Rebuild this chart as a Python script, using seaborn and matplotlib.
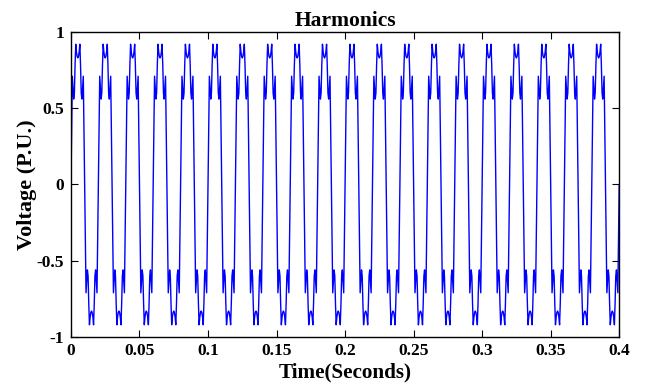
import numpy as np
import pandas as pd
import seaborn as sns
import matplotlib.pyplot as plt

# one cycle of the 50 Hz waveform, every 0.5 ms
cycle = [0.00, 0.36, 0.71, 0.63, 0.56, 0.60, 0.78, 0.92, 0.87, 0.84,
         0.83, 0.84, 0.87, 0.92, 0.78, 0.60, 0.56, 0.63, 0.71, 0.36,
         0.00, -0.36, -0.71, -0.63, -0.56, -0.60, -0.78, -0.92, -0.87, -0.84,
         -0.83, -0.84, -0.87, -0.92, -0.78, -0.60, -0.56, -0.63, -0.71, -0.36]
n_cycles = 20
step = 0.0005

xticks = [0, 0.05, 0.1, 0.15, 0.2, 0.25, 0.3, 0.35, 0.4]
xticklabels = ["0", "0.05", "0.1", "0.15", "0.2", "0.25", "0.3", "0.35", "0.4"]
yticks = [-1, -0.5, 0, 0.5, 1]
yticklabels = ["-1", "-0.5", "0", "0.5", "1"]

volts = list(np.tile(cycle, n_cycles)) + [cycle[0]]
df = pd.DataFrame({"t": np.arange(len(volts)) * step, "v": volts})

sns.set_style("ticks")
plt.rcParams['font.family'] = ['Liberation Serif', 'DejaVu Serif']
plt.rcParams['font.weight'] = 'bold'
plt.rcParams['text.color'] = 'black'
plt.rcParams['axes.labelcolor'] = 'black'

fig = plt.figure(figsize=(6.45, 3.84), dpi=100)
ax = fig.add_axes([0.110, 0.1224, 0.850, 0.7943])

sns.lineplot(data=df, x="t", y="v", ax=ax, color=(0, 0, 1), linewidth=1.0,
             estimator=None, sort=False)

ax.set_xlim(0, 0.4)
ax.set_ylim(-1, 1)
ax.set_xticks(xticks)
ax.set_xticklabels(xticklabels, fontsize=12.6, fontweight='bold')
ax.set_yticks(yticks)
ax.set_yticklabels(yticklabels, fontsize=12.6, fontweight='bold')
ax.tick_params(direction='in', top=True, right=True, length=5, width=0.8,
               pad=4, colors='black')
ax.tick_params(axis='y', pad=5)
for s in ax.spines.values():
    s.set_visible(True)
    s.set_color('black')
    s.set_linewidth(1.0)

ax.set_title("Harmonics", fontsize=15.5, fontweight='bold', pad=4, color='black')
ax.set_xlabel("Time(Seconds)", fontsize=15.2, fontweight='bold', labelpad=3)
ax.set_ylabel("Voltage (P.U.)", fontsize=16, fontweight='bold', labelpad=0)

fig.savefig("out.png", dpi=100)
